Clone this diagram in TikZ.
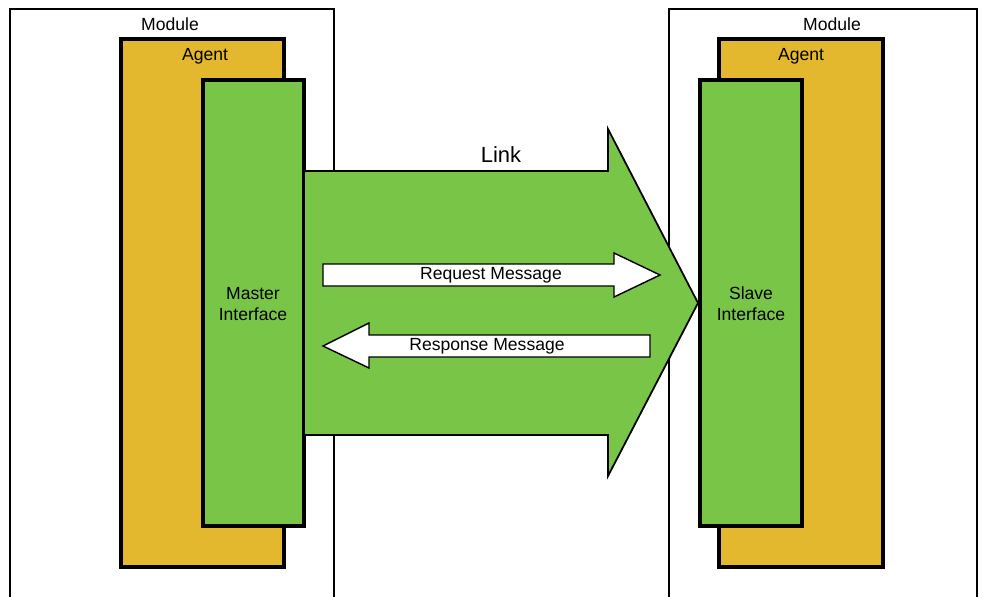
\documentclass[tikz,border=0pt]{standalone}
\usepackage{fontspec}
\setmainfont{Liberation Sans}
\definecolor{agentgelb}{HTML}{E3B82E}
\definecolor{ifgruen}{HTML}{78C547}

\begin{document}
\begin{tikzpicture}[x=0.02cm, y=-0.02cm, font=\fontsize{10}{12}\selectfont]

		\useasboundingbox (0,0) rectangle (982,596);

		%Module (unten offen)
		\draw [line width=1.3pt] (10,600) -- (10,9) -- (334,9) -- (334,600);
		\draw [line width=1.3pt] (669,600) -- (669,9) -- (977,9) -- (977,600);
		\node (modulL) at (170,24) {Module};
		\node (modulR) at (832,24) {Module};

		%Agenten
		\draw [fill=agentgelb, line width=1.8pt] (121,39) rectangle (284,567);
		\draw [fill=agentgelb, line width=1.8pt] (719,39) rectangle (883,567);
		\node (agentL) at (205,56) {Agent};
		\node (agentR) at (801,56) {Agent};

		%Schnittstellen
		\draw [fill=ifgruen, line width=1.8pt] (203,80) rectangle (304,526);
		\draw [fill=ifgruen, line width=1.8pt] (700,80) rectangle (802,526);
		\node [align=center] (master) at (253,304) {Master\\Interface};
		\node [align=center] (slave) at (751,304) {Slave\\Interface};

		%Link
		\filldraw [fill=ifgruen, draw=black, line width=1pt] (304,171) -- (608,171) -- (608,129)
			-- (698,303) -- (608,476) -- (608,435) -- (304,435) -- cycle;
		\node [font=\fontsize{12.5}{15}\selectfont] (link) at (501,155) {Link};

		%Nachrichten
		\filldraw [fill=white, draw=black, line width=0.8pt] (323,264) -- (614,264) -- (614,253)
			-- (660,275) -- (614,297) -- (614,286) -- (323,286) -- cycle;
		\node (anfrage) at (491,275) {Request Message};

		\filldraw [fill=white, draw=black, line width=0.8pt] (650,335) -- (369,335) -- (369,323)
			-- (323,346) -- (369,368) -- (369,357) -- (650,357) -- cycle;
		\node (antwort) at (487,346) {Response Message};

\end{tikzpicture}
\end{document}
